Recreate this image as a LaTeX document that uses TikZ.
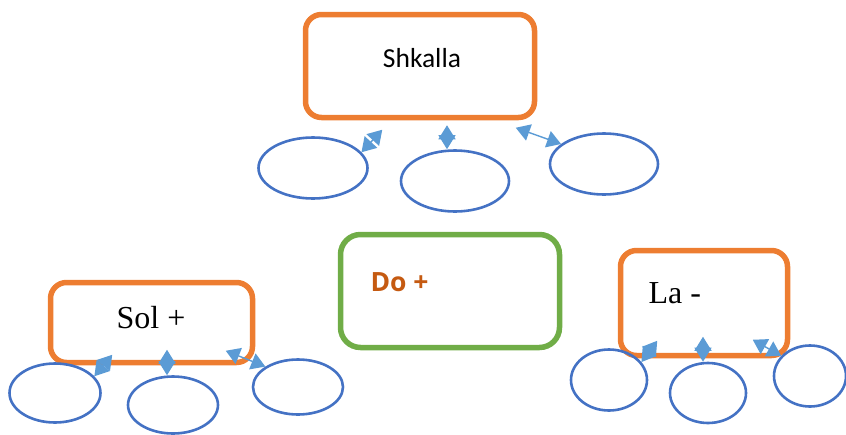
\documentclass[tikz,border=0pt]{standalone}
\usepackage{fontspec}
\setmainfont{Liberation Serif}
\newfontfamily\calfont{Carlito}
\newfontfamily\opfont{Open Sans}
\usetikzlibrary{arrows.meta,shapes.geometric,shadows}
\definecolor{boxorange}{HTML}{ED7D31}
\definecolor{boxgreen}{HTML}{70AD47}
\definecolor{ovalblue}{HTML}{4472C4}
\definecolor{linkblue}{HTML}{5B9BD5}
\definecolor{dotext}{HTML}{C55A11}
\begin{document}
\begin{tikzpicture}[x=1pt,y=-1pt,
  obox/.style={draw=boxorange, line width=5.5pt, rounded corners=16pt, inner sep=0pt},
  oval/.style={ellipse, draw=ovalblue, line width=2.6pt, inner sep=0pt},
  link/.style={draw=linkblue, line width=1.4pt,
    {Triangle[length=14pt,width=17pt]}-{Triangle[length=14pt,width=17pt]}}]
  \useasboundingbox (0,0) rectangle (846,434);

  % top group
  \node[obox, minimum width=229pt, minimum height=103pt] (shk) at (420,66) {};
  \node[font=\calfont\fontsize{27.5}{30}\selectfont] (shktxt) at (422,58) {Shkalla};
  \node[oval, minimum width=109pt, minimum height=61pt] (e1) at (313,168) {};
  \node[oval, minimum width=108pt, minimum height=61pt] (e2) at (455,181) {};
  \node[oval, minimum width=108pt, minimum height=61pt] (e3) at (604,164) {};

  \draw[link] (e1.18) -- ([xshift=79.5pt,yshift=-9.5pt]shk.south west);
  \draw[link] ([xshift=27pt,yshift=-5pt]shk.south) -- ([xshift=-8pt]e2.north);
  \draw[link] ([xshift=-21.5pt,yshift=-7.5pt]shk.south east) -- (e3.155);

  % middle box
  \node[obox, draw=boxgreen, rounded corners=20pt, minimum width=219pt, minimum height=113pt,
    fill=white, drop shadow={shadow xshift=1.5pt, shadow yshift=-2pt, opacity=0.3}] (do) at (450,291) {};
  \node[font=\opfont\bfseries\fontsize{26.5}{30}\selectfont, text=dotext, anchor=west] (dotxt) at (367,282) {Do +};

  % left group
  \node[obox, minimum width=202pt, minimum height=80pt] (sol) at (151.5,322.5) {};
  \node[font=\fontsize{32}{36}\selectfont] (soltxt) at (151,318) {Sol +};
  \node[oval, minimum width=91pt, minimum height=59pt] (f1) at (55,393) {};
  \node[oval, minimum width=90pt, minimum height=57pt] (f2) at (173,405) {};
  \node[oval, minimum width=90pt, minimum height=55pt] (f3) at (298,387) {};

  \draw[link] (f1.23) -- ([xshift=64.5pt,yshift=10.5pt]sol.south west);
  \draw[link] ([xshift=15.5pt,yshift=15.5pt]sol.south) -- ([xshift=-6pt]f2.north);
  \draw[link] ([xshift=-29.5pt,yshift=14.5pt]sol.south east) -- (f3.148);

  % right group
  \node[obox, minimum width=167pt, minimum height=105pt] (la) at (704,303) {};
  \node[font=\fontsize{32}{36}\selectfont, anchor=west] (latxt) at (645,293) {La -};
  \node[oval, minimum width=76pt, minimum height=61pt] (g1) at (609,380) {};
  \node[oval, minimum width=76pt, minimum height=60pt] (g2) at (708,393) {};
  \node[oval, minimum width=72pt, minimum height=61pt] (g3) at (810,376) {};

  \draw[link] (g1.29) -- ([xshift=39.5pt,yshift=17.5pt]la.south west);
  \draw[link] ([xshift=-1pt,yshift=21.5pt]la.south) -- ([xshift=-5pt]g2.north);
  \draw[link] ([xshift=-37.5pt,yshift=18.5pt]la.south east) -- (g3.145);

\end{tikzpicture}
\end{document}
